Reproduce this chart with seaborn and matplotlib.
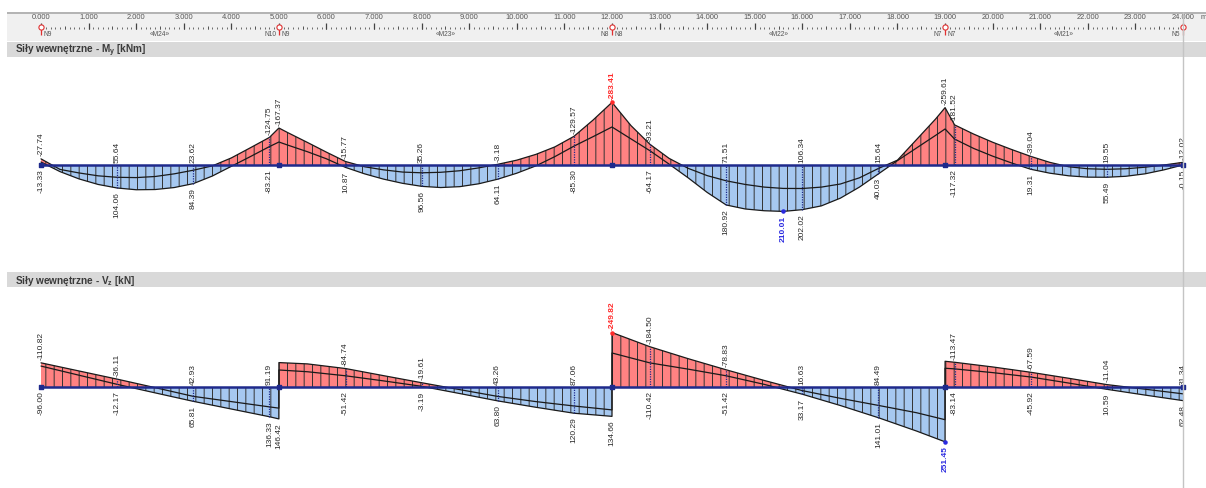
import numpy as np
import matplotlib
matplotlib.use("Agg")
import matplotlib.pyplot as plt
import seaborn as sns

# ---------------- data ----------------
# ruler / structure
ruler_m = list(range(0, 25))
nodes_x = [0.0, 5.0, 12.0, 19.0, 24.0]
node_left = ["", "N10", "N8", "N7", "N5"]
node_right = ["N9", "N9", "N8", "N7", ""]
members_x = [2.5, 8.5, 15.5, 21.5]
members = ["«M24»", "«M23»", "«M22»", "«M21»"]

# bending moment envelope My [kNm]
M_x = [0.0, 0.4, 0.8, 1.2, 1.6, 2.0, 2.4, 2.8, 3.2, 3.6, 4.0, 4.4, 4.8, 5.0,
       5.2, 5.6, 6.0, 6.4, 6.8, 7.2, 7.6, 8.0, 8.4, 8.8, 9.2, 9.6, 10.0, 10.4,
       10.8, 11.2, 11.6, 12.0, 12.4, 12.8, 13.2, 13.6, 14.0, 14.4, 14.8, 15.2,
       15.6, 16.0, 16.4, 16.8, 17.2, 17.6, 18.0, 18.4, 18.8, 19.0, 19.2, 19.6,
       20.0, 20.4, 20.8, 21.2, 21.6, 22.0, 22.4, 22.8, 23.2, 23.6, 24.0]
M_max = [-13.33, 30, 63, 88, 104.06, 112, 111, 102, 84.39, 50, 6, -38, -83.21, -104,
         -89, -60, -28, 10.87, 40, 64, 83, 96.56, 102, 98, 85, 64.11, 37, 4,
         -38, -85.30, -128, -172, -118, -64.17, -4, 58, 124, 180.92, 199, 207,
         210.01, 202.02, 185, 150, 100, 40.03, -20, -77, -134, -163, -117.32, -75,
         -40, -9, 19.31, 37, 49, 55, 55.49, 51, 40, 22, -0.15]
M_min = [-27.74, 20, 36, 49, 55.64, 57, 52, 40, 23.62, 4, -32, -78, -124.75, -167.37,
         -145, -102, -58, -15.77, 8, 22, 32, 35.26, 33, 26, 13, -3.18, -22, -48,
         -82, -129.57, -203, -283.41, -178, -93.21, -30, 15, 48, 71.51, 88, 100,
         106, 106.34, 100, 86, 58, 15.64, -22, -115, -208, -259.61, -181.52, -140,
         -103, -70, -39.04, -12, 8, 17, 19.55, 17, 10, 0, -12.02]
M_lab_x = [0.0, 1.6, 3.2, 4.8, 6.4, 8.0, 9.6, 11.2, 12.8, 14.4, 16.0, 17.6,
           19.2, 20.8, 22.4, 24.0]
M_ext_x = [5.0, 12.0, 15.6, 19.0]
M_ext_kind = ["min", "min", "max", "min"]
M_ext_col = ["#2a2a2a", "#ff2a2a", "#2a2ae0", "#2a2a2a"]

# shear force envelope Vz [kN] (supports listed twice: left / right side)
V_x = [0.0, 0.8, 1.6, 2.4, 3.2, 4.0, 4.8, 5.0,
       5.0, 5.6, 6.4, 7.2, 8.0, 8.8, 9.6, 10.4, 11.2, 12.0,
       12.0, 12.8, 13.6, 14.4, 15.2, 16.0, 16.8, 17.6, 18.4, 19.0,
       19.0, 19.2, 20.0, 20.8, 21.6, 22.4, 23.2, 24.0]
V_min = [-110.82, -73.5, -36.11, 3, 42.93, 67, 91.19, 97,
         -112, -106, -84.74, -52, -19.61, 12, 43.26, 67, 87.06, 105,
         -249.82, -184.50, -130, -78.83, -30, 16.63, 52, 84.49, 118, 150,
         -118, -113.47, -92, -67.59, -40, -11.04, 10, 31.34]
V_max = [-96.00, -54, -12.17, 27, 65.81, 101, 136.33, 146.42,
         -78, -70, -51.42, -28, -3.19, 30, 63.80, 93, 120.29, 134.66,
         -156, -110.42, -82, -51.42, -12, 33.17, 85, 141.01, 202, 251.45,
         -86, -83.14, -66, -45.92, -18, 10.59, 37, 62.48]
V_lab_x = [0.0, 1.6, 3.2, 4.8, 6.4, 8.0, 9.6, 11.2, 12.8, 14.4, 16.0, 17.6,
           19.2, 20.8, 22.4, 24.0]
V_ext_x = [5.0, 12.0, 12.0, 19.0]
V_ext_side = [0, 0, 1, 0]
V_ext_kind = ["max", "max", "min", "max"]
V_ext_col = ["#2a2a2a", "#2a2a2a", "#ff2a2a", "#2a2ae0"]

# ---------------- style ----------------
sns.set_theme(style="white")
plt.rcParams['font.family'] = ['Liberation Sans', 'DejaVu Sans']
plt.rcParams['mathtext.fontset'] = 'custom'
plt.rcParams['mathtext.rm'] = 'Liberation Sans'
plt.rcParams['mathtext.bf'] = 'Liberation Sans:bold'
plt.rcParams['hatch.linewidth'] = 0.7

RED = "#ff8282"
BLUE = "#a6c8f0"
HATCH = "#333333"
LINE = "#1a1a1a"
NAVY = "#1f2a8c"
TXT = "#2a2a2a"
LFS = 6.0

W, H = 1206, 489
fig = plt.figure(figsize=(W / 100, H / 100), dpi=100)
PXM = 47.583
X0 = 41.0


def add_ax(left, top, right, bottom):
    ax = fig.add_axes([left / W, 1 - bottom / H, (right - left) / W, (bottom - top) / H])
    ax.set_xlim((left - X0) / PXM, (right - X0) / PXM)
    return ax


# ---------------- ruler ----------------
ax_r = add_ax(7, 13, W, 42)
ax_r.set_ylim(42, 13)
ax_r.axis("off")
ax_r.add_patch(plt.Rectangle((0, 0), 1, 1, transform=ax_r.transAxes, color="#f0f0f0", zorder=0))
ax_r.axhline(13.6, color="#a8a8a8", lw=1.2)
for v in ruler_m:
    ax_r.text(v, 18.0, f"{v:.3f}", ha="center", va="center", fontsize=5.4, color="#555555")
ax_r.text(ruler_m[-1] + 0.36, 18.0, "m", ha="left", va="center", fontsize=5.4, color="#555555")
fine = np.round(np.arange(ruler_m[0], ruler_m[-1] + 0.001, 0.1), 1)
half = fine[np.isclose(fine * 2, np.round(fine * 2))]
ax_r.vlines(fine, 28.3, 30.0, color="#555555", lw=0.6)
ax_r.vlines(half, 26.5, 30.0, color="#555555", lw=0.7)
ax_r.vlines(ruler_m, 23.5, 30.0, color="#444444", lw=0.9)
ax_r.vlines(nodes_x, 27.5, 35.5, color="#e03030", lw=0.9)
ax_r.scatter(nodes_x, [27.5] * len(nodes_x), s=14, facecolor="white", edgecolor="#e03030", lw=0.8, zorder=5)
for xv, l, r in zip(nodes_x, node_left, node_right):
    if l:
        ax_r.annotate(l, (xv, 34.5), xytext=(-2, 0), textcoords="offset points",
                      ha="right", va="center", fontsize=4.8, color="#555555")
    if r:
        ax_r.annotate(r, (xv, 34.5), xytext=(2, 0), textcoords="offset points",
                      ha="left", va="center", fontsize=4.8, color="#555555")
for xv, m in zip(members_x, members):
    ax_r.text(xv, 34.5, m, ha="center", va="center", fontsize=4.8, color="#555555")

# ---------------- title bands ----------------
for (t, b, title) in [(43, 58, r"Siły wewnętrzne - M$_\mathbf{y}$ [kNm]"),
                      (273, 288, r"Siły wewnętrzne - V$_\mathbf{z}$ [kN]")]:
    axb = add_ax(7, t, W, b)
    axb.set_facecolor("#d9d9d9")
    for s in axb.spines.values():
        s.set_visible(False)
    axb.set_xticks([])
    axb.set_yticks([])
    axb.text(8 / (W - 7), 0.5, title, transform=axb.transAxes, ha="left", va="center",
             fontsize=7.2, fontweight="bold", color="#3a3a3a")


# ---------------- diagrams ----------------
def draw_diagram(ax, xs, vmin, vmax, lab_x, ext_idx, ext_kind, ext_col):
    x = np.asarray(xs, dtype=float)
    top = -np.asarray(vmin, dtype=float)
    bot = -np.asarray(vmax, dtype=float)
    ax.fill_between(x, 0, top, where=top > 0, interpolate=True, facecolor=RED,
                    edgecolor=HATCH, hatch="||", linewidth=0, zorder=1)
    ax.fill_between(x, 0, bot, where=bot < 0, interpolate=True, facecolor=BLUE,
                    edgecolor=HATCH, hatch="||", linewidth=0, zorder=1)
    sns.lineplot(x=x, y=top, ax=ax, color=LINE, lw=0.9, sort=False, estimator=None, legend=False, zorder=2)
    sns.lineplot(x=x, y=bot, ax=ax, color=LINE, lw=0.9, sort=False, estimator=None, legend=False, zorder=2)
    ax.hlines(0, x[0], x[-1], color=NAVY, lw=1.8, zorder=3)
    ax.scatter(nodes_x, np.zeros(len(nodes_x)), marker="s", s=9, color=NAVY, zorder=4)
    xl = list(xs)
    for xv in lab_x:
        i = xl.index(xv)
        hi = max(0.0, top[i])
        lo = min(0.0, bot[i])
        if 0 < i < len(xl) - 1:
            ax.vlines(xv, lo, hi, color=NAVY, lw=0.9, linestyle=(0, (1, 1)), zorder=3)
        ax.annotate(f"{vmin[i]:.2f}", (xv, hi), xytext=(0, 2.5), textcoords="offset points",
                    rotation=90, ha="center", va="bottom", fontsize=LFS, color=TXT)
        ax.annotate(f"{vmax[i]:.2f}", (xv, lo), xytext=(0, -2.5), textcoords="offset points",
                    rotation=90, ha="center", va="top", fontsize=LFS, color=TXT)
    for i, k, c in zip(ext_idx, ext_kind, ext_col):
        if k == "min":
            yv, txt, dy, va = max(0.0, top[i]), f"{vmin[i]:.2f}", 2.5, "bottom"
        else:
            yv, txt, dy, va = min(0.0, bot[i]), f"{vmax[i]:.2f}", -2.5, "top"
        if c != "#2a2a2a":
            ax.scatter([x[i]], [yv], s=5, color=c, zorder=5)
        ax.annotate(txt, (x[i], yv), xytext=(0, dy), textcoords="offset points",
                    rotation=90, ha="center", va=va, fontsize=LFS, color=c,
                    fontweight="bold" if c != "#2a2a2a" else "normal")
    ax.axis("off")


axM = add_ax(0, 58, W, 268)
axM.set_ylim(-(268 - 166) / 0.221, (166 - 58) / 0.221)
M_ext_idx = [M_x.index(v) for v in M_ext_x]
draw_diagram(axM, M_x, M_min, M_max, M_lab_x, M_ext_idx, M_ext_kind, M_ext_col)

axV = add_ax(0, 288, W, 489)
axV.set_ylim(-(489 - 388) / 0.218, (388 - 288) / 0.218)
V_ext_idx = [[j for j, v in enumerate(V_x) if v == xv][s] for xv, s in zip(V_ext_x, V_ext_side)]
draw_diagram(axV, V_x, V_min, V_max, V_lab_x, V_ext_idx, V_ext_kind, V_ext_col)

# cursor line at the beam end
axO = add_ax(0, 0, W, H)
axO.set_ylim(H, 0)
axO.axis("off")
axO.vlines(nodes_x[-1], 13, H, color="#c4c4c4", lw=1.0, zorder=10)

fig.savefig("out.png", dpi=100)
